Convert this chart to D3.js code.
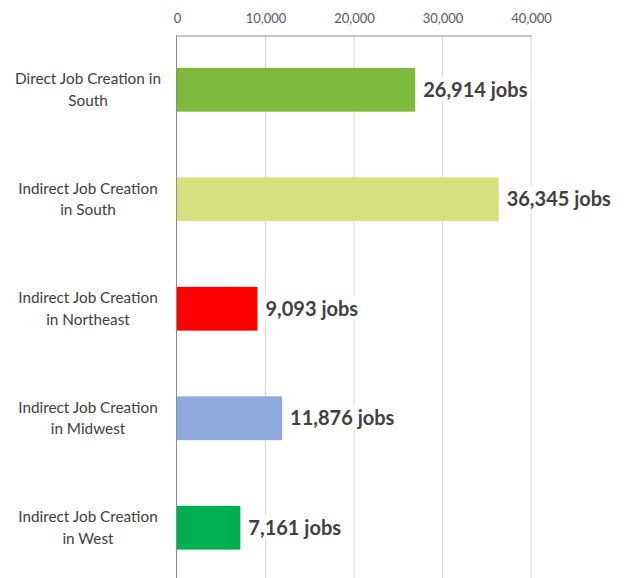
<!DOCTYPE html>
<html><head><meta charset="utf-8">
<script src="https://cdn.jsdelivr.net/npm/d3@7"></script>
<style>body{margin:0;background:#fff}svg{display:block}</style>
</head><body>
<svg id="c" width="633" height="578"></svg>
<script>
const categories = [["Direct Job Creation in","South"],["Indirect Job Creation","in South"],["Indirect Job Creation","in Northeast"],["Indirect Job Creation","in Midwest"],["Indirect Job Creation","in West"]];
const values = [26914, 36345, 9093, 11876, 7161];
const colors = ["#7dba3c", "#d5e07e", "#ff0000", "#8eaadc", "#00b050"];
const tickValues = [0, 10000, 20000, 30000, 40000];

const svg = d3.select("#c");
const font = "Lato, 'Noto Sans', sans-serif";
const x = d3.scaleLinear().domain([0, 40000]).range([177, 531]);
const y = d3.scaleBand().domain(d3.range(values.length)).range([35, 582.5]).paddingInner(0.6).paddingOuter(0.3);

// gridlines
svg.append("g").selectAll("line").data(tickValues.slice(1)).join("line")
  .attr("x1", d => x(d)).attr("x2", d => x(d)).attr("y1", 35).attr("y2", 578)
  .attr("stroke", "#d9d9d9").attr("stroke-width", 1);

// top axis
const ax = svg.append("g").attr("transform", "translate(0,35.5)")
  .call(d3.axisTop(x).tickValues(tickValues).tickFormat(d3.format(",")).tickSize(0).tickPadding(13));
ax.select(".domain").attr("stroke", "#8c8c8c");
ax.selectAll("text").attr("fill", "#595959").style("font-family", font).style("font-size", "13px");

// zero axis
svg.append("line").attr("x1", x(0) - 0.5).attr("x2", x(0) - 0.5).attr("y1", 35).attr("y2", 578)
  .attr("stroke", "#8c8c8c");

// bars
svg.append("g").selectAll("rect").data(values).join("rect")
  .attr("x", x(0)).attr("y", (d, i) => y(i)).attr("height", y.bandwidth())
  .attr("width", d => x(d) - x(0)).attr("fill", (d, i) => colors[i]);

// value labels with white background
const lab = svg.append("g").selectAll("g").data(values).join("g")
  .attr("transform", (d, i) => `translate(${x(d) + 8},${y(i) + y.bandwidth() / 2})`);
lab.append("rect").attr("class", "bg").attr("fill", "#fff");
lab.append("text").text(d => d3.format(",")(d) + " jobs")
  .attr("dy", "0.35em").attr("fill", "#404040")
  .style("font-family", font).style("font-size", "20px").style("font-weight", "bold");
lab.each(function () {
  const g = d3.select(this);
  const bb = g.select("text").node().getBBox();
  g.select("rect").attr("x", bb.x - 3).attr("y", bb.y).attr("width", bb.width + 6).attr("height", bb.height);
});

// category labels
const cl = svg.append("g").selectAll("text").data(categories).join("text")
  .attr("x", 88).attr("y", (d, i) => y(i) + y.bandwidth() / 2)
  .attr("text-anchor", "middle").attr("fill", "#404040")
  .style("font-family", font).style("font-size", "15.3px");
cl.selectAll("tspan").data(d => d).join("tspan")
  .attr("x", 88).attr("dy", (d, j) => j === 0 ? "-0.35em" : "1.4em").text(d => d);
</script>
</body></html>
